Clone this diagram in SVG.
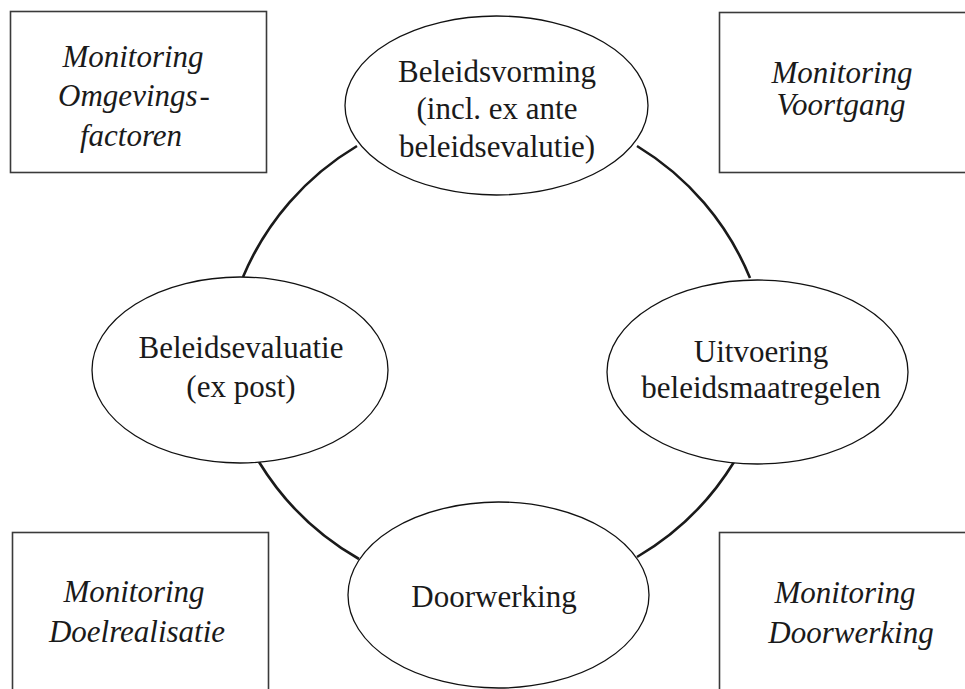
<svg xmlns="http://www.w3.org/2000/svg" width="965" height="689" viewBox="0 0 965 689">
<style>
.box{fill:#fff;stroke:#3a3a3a;stroke-width:1.6}
.node{fill:#fff;stroke:#111;stroke-width:1.3}
.arc{fill:none;stroke:#1a1a1a;stroke-width:2.6}
.t{font-family:"Liberation Serif","Times New Roman",serif;font-size:31px;fill:#1a1a1a;text-anchor:middle}
.i{font-style:italic}
</style>
<rect width="965" height="689" fill="#fff"/>
<g id="connectors">
<path class="arc" d="M243,277 A277,277 0 0 1 357,146"/>
<path class="arc" d="M637,146 A277,277 0 0 1 750,278"/>
<path class="arc" d="M734,462 A280,280 0 0 1 637,557"/>
<path class="arc" d="M359,559 A280,280 0 0 1 259,462"/>
</g>
<g id="box-omgeving">
<rect class="box" x="10.5" y="11.5" width="256" height="161"/>
<text class="t i" x="133" y="67">Monitoring</text>
<text class="t i" x="134" y="106">Omgevings<tspan dx="2">-</tspan></text>
<text class="t i" x="131" y="146">factoren</text>
</g>
<g id="box-voortgang">
<rect class="box" x="719.5" y="12.5" width="260" height="160"/>
<text class="t i" x="842" y="83">Monitoring</text>
<text class="t i" x="841" y="115">Voortgang</text>
</g>
<g id="box-doelrealisatie">
<rect class="box" x="12.5" y="532.5" width="256" height="170"/>
<text class="t i" x="134" y="602">Monitoring</text>
<text class="t i" x="137" y="642">Doelrealisatie</text>
</g>
<g id="box-doorwerking">
<rect class="box" x="719.5" y="532.5" width="260" height="170"/>
<text class="t i" x="845" y="603">Monitoring</text>
<text class="t i" x="851" y="643">Doorwerking</text>
</g>
<g id="node-beleidsvorming">
<ellipse class="node" cx="496.5" cy="105.5" rx="151.5" ry="89.5"/>
<text class="t" x="497" y="82">Beleidsvorming</text>
<text class="t" x="497" y="119">(incl. ex ante</text>
<text class="t" x="497" y="157">beleidsevalutie)</text>
</g>
<g id="node-uitvoering">
<ellipse class="node" cx="757.5" cy="372" rx="150.5" ry="92"/>
<text class="t" x="761" y="362">Uitvoering</text>
<text class="t" x="761" y="398">beleidsmaatregelen</text>
</g>
<g id="node-doorwerking">
<ellipse class="node" cx="498.5" cy="595" rx="150.5" ry="93"/>
<text class="t" x="494" y="607">Doorwerking</text>
</g>
<g id="node-evaluatie">
<ellipse class="node" cx="240" cy="370" rx="148" ry="93"/>
<text class="t" x="241" y="358">Beleidsevaluatie</text>
<text class="t" x="241" y="397">(ex post)</text>
</g>
</svg>
